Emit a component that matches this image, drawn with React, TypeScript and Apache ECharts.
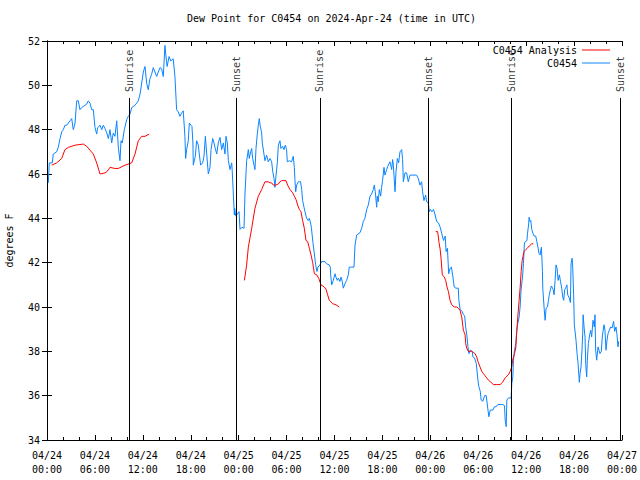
import React, { useEffect, useRef } from "react";
import * as echarts from "echarts";

// Hours since 2024-04-24 00:00 UTC
const blueHours = [0.16,0.29,0.66,0.79,1.21,1.41,1.63,1.84,2.04,2.25,2.47,2.67,2.88,3.09,3.29,3.42,3.51,3.72,3.92,4.13,4.35,4.55,4.76,4.97,5.17,5.38,5.6,5.8,6.01,6.22,6.35,6.64,6.85,7.05,7.26,7.48,7.68,7.89,8.1,8.3,8.51,8.73,8.93,9.14,9.27,9.43,9.68,9.98,10.18,10.39,10.61,11.02,11.43,11.65,11.86,12.06,12.27,12.48,12.68,12.89,13.1,13.31,13.52,13.73,13.94,14.15,14.35,14.56,14.77,14.87,15.04,15.29,15.5,15.8,16.02,16.23,16.44,16.64,16.85,17.06,17.27,17.36,17.48,17.69,17.82,18.03,18.15,18.27,18.32,18.57,18.74,18.95,19.07,19.24,19.49,19.66,19.83,20.0,20.2,20.41,20.54,20.75,20.91,21.04,21.25,21.45,21.66,21.87,22.08,22.29,22.41,22.58,22.71,22.92,23.13,23.2,23.33,23.46,23.5,23.63,23.85,24.05,24.17,24.42,24.67,24.79,25.0,25.21,25.33,25.5,25.63,25.75,25.92,26.04,26.17,26.33,26.46,26.58,26.71,26.88,26.96,27.17,27.29,27.5,27.71,27.92,28.13,28.27,28.43,28.54,28.67,28.85,28.97,29.17,29.29,29.5,29.67,29.84,30.0,30.09,30.34,30.63,30.84,30.97,31.05,31.14,31.26,31.47,31.76,31.89,32.01,32.18,32.3,32.51,32.72,32.85,32.97,33.1,33.3,33.51,33.64,33.8,33.93,34.18,34.39,34.8,35.0,35.35,35.47,35.52,35.65,35.85,36.06,36.18,36.35,36.48,36.68,36.81,36.97,37.1,37.31,37.52,37.73,37.85,38.14,38.44,38.57,38.78,39.19,39.4,39.6,39.81,40.03,40.23,40.45,40.65,40.86,40.98,41.11,41.28,41.36,41.48,41.61,41.78,41.9,42.02,42.2,42.32,42.53,42.74,42.95,43.16,43.28,43.37,43.58,43.7,43.87,44.03,44.2,44.41,44.53,44.62,44.82,45.03,45.24,45.45,46.28,46.49,46.7,46.91,47.03,47.2,47.41,47.53,47.74,47.87,48.0,48.2,48.4,48.6,48.8,49.0,49.23,49.44,49.65,49.86,49.97,50.14,50.3,50.48,50.64,50.81,50.99,51.2,51.5,51.57,51.73,51.98,52.15,52.3,52.42,52.58,52.71,52.83,53.0,53.25,53.33,53.54,53.75,53.96,54.08,54.25,54.37,54.58,54.79,55.0,55.2,55.33,55.5,55.83,56.04,56.25,56.45,56.87,57.08,57.29,57.37,57.5,57.58,57.79,58.0,58.12,58.2,58.33,58.41,58.54,58.7,58.83,58.95,59.12,59.24,59.37,59.54,59.66,59.78,60.1,60.16,60.3,60.37,60.5,60.58,60.7,60.87,61.0,61.2,61.33,61.5,61.62,61.75,61.91,62.04,62.08,62.25,62.37,62.5,62.66,62.79,62.87,63.04,63.16,63.37,63.5,63.62,63.74,63.87,64.0,64.16,64.3,64.45,64.58,64.7,64.83,64.95,65.1,65.2,65.41,65.54,65.62,65.75,65.83,65.95,66.03,66.24,66.37,66.5,66.66,66.75,66.87,66.99,67.08,67.13,67.25,67.37,67.46,67.58,67.66,67.79,67.95,68.08,68.2,68.37,68.54,68.62,68.7,68.83,69.0,69.12,69.24,69.41,69.54,69.75,69.87,70.0,70.12,70.25,70.41,70.58,70.75,70.95,71.08,71.25,71.37,71.5,71.58];
const blueValues = [45.6,46.5,46.5,46.9,47.0,47.2,47.6,47.9,48.0,48.2,48.2,48.3,48.4,48.5,48.0,48.15,48.3,49.3,49.3,48.9,49.0,49.05,49.1,49.15,49.3,49.2,48.9,48.9,48.1,47.8,48.1,48.2,48.0,48.2,48.05,47.85,47.6,48.0,47.4,47.85,47.7,48.4,47.2,46.6,47.5,47.4,48.0,48.45,48.6,48.7,49.0,49.1,49.3,49.6,50.1,50.6,50.85,50.1,49.8,50.3,50.5,50.8,50.6,50.4,50.6,50.8,50.75,50.4,51.8,51.4,50.85,51.3,51.1,51.2,50.4,48.9,48.8,48.6,48.75,48.85,47.7,46.7,47.1,47.5,48.3,48.2,48.15,47.4,46.4,46.8,47.5,47.3,46.9,46.4,46.5,46.8,47.7,46.9,46.0,46.3,47.1,47.6,47.4,47.2,46.9,47.4,47.65,47.1,47.4,46.9,47.7,47.4,46.6,46.2,46.5,46.1,45.1,44.15,44.45,44.1,44.2,44.3,43.5,43.6,43.55,45.1,46.6,47.1,46.7,47.0,47.15,46.7,46.4,46.2,47.15,47.8,48.2,48.5,48.15,47.85,47.4,46.9,46.6,46.85,46.55,46.7,46.55,46.1,45.8,45.4,45.9,46.55,47.3,47.5,47.15,47.25,47.1,47.3,47.1,46.55,46.6,46.55,46.8,46.3,45.7,45.2,45.5,45.65,45.65,45.3,44.8,44.5,44.3,44.0,43.9,44.0,43.85,43.6,42.9,42.3,41.9,41.6,41.8,41.9,42.05,42.05,41.95,41.9,41.8,41.45,41.0,41.2,41.5,41.35,41.2,41.3,41.15,41.35,41.15,40.85,41.05,41.2,41.45,41.8,41.8,41.8,42.8,43.25,43.35,43.55,43.85,44.0,44.4,44.6,45.0,45.1,45.3,45.5,45.2,44.5,45.0,44.75,45.3,45.0,45.4,45.7,46.3,45.95,46.2,46.4,46.55,46.2,46.65,46.4,45.2,46.1,46.7,46.5,47.0,47.1,46.65,45.65,46.05,46.05,45.65,45.95,45.95,45.8,45.5,45.65,45.2,44.8,45.05,44.75,44.7,44.3,44.4,44.3,44.4,44.15,43.85,43.8,43.6,43.3,43.0,43.2,42.5,42.65,41.5,41.75,41.8,41.4,40.9,40.85,40.85,40.3,39.9,39.8,39.65,39.6,39.1,38.7,38.2,37.9,38.05,38.0,37.75,37.7,37.45,36.7,36.4,36.2,35.8,35.75,36.0,36.0,35.4,35.05,35.35,35.35,35.5,35.5,35.6,35.6,35.6,35.55,34.9,34.6,35.8,35.9,35.9,35.9,36.55,36.85,37.6,38.05,38.35,38.95,39.25,39.55,40.0,40.8,41.35,41.95,42.9,43.0,43.3,43.7,44.05,43.85,43.9,43.5,43.3,43.2,43.2,42.95,42.65,42.4,42.35,42.7,41.6,40.85,39.95,39.4,39.95,40.0,40.3,40.5,40.8,40.95,40.8,40.55,41.2,41.9,41.75,41.2,41.45,41.15,40.85,40.45,40.3,40.8,40.85,41.0,40.55,40.4,40.2,41.95,42.2,41.8,40.45,39.2,38.5,37.9,37.45,36.6,37.0,37.3,38.05,38.8,39.65,39.1,38.65,37.4,36.85,37.6,38.35,38.75,38.95,38.65,39.4,39.1,39.65,38.05,37.6,38.2,38.05,37.9,38.0,38.7,39.2,38.95,38.05,38.5,38.8,38.95,39.1,39.05,39.35,38.9,39.1,38.75,38.2,38.45];

// Analysis series, three separate runs
const red1Hours = [0.59,1.21,1.84,2.25,2.67,3.51,4.55,4.97,5.8,6.22,6.64,7.26,7.48,7.89,8.51,8.93,9.77,10.6,11.02,11.43,11.86,12.27,12.8];
const red1Values = [46.4,46.5,46.7,47.1,47.2,47.3,47.35,47.25,46.9,46.5,46.0,46.05,46.1,46.3,46.25,46.25,46.4,46.5,46.9,47.5,47.7,47.7,47.8];
const red2Hours = [24.72,25.0,25.21,25.63,26.04,26.46,26.88,27.29,27.71,27.92,28.13,28.34,28.67,28.97,29.17,29.38,29.67,29.92,30.13,30.42,30.76,30.97,31.18,31.39,31.6,31.8,32.01,32.22,32.43,32.64,32.85,33.06,33.27,33.48,33.77,34.02,34.31,34.73,34.94,35.14,35.35,35.77,36.19,36.6];
const red2Values = [41.2,41.9,42.7,43.55,44.45,45.0,45.3,45.65,45.65,45.6,45.6,45.5,45.5,45.55,45.65,45.7,45.7,45.7,45.5,45.3,45.15,45.0,44.85,44.6,44.4,44.3,43.9,43.55,43.0,42.95,42.65,42.35,42.0,41.5,41.45,41.3,41.0,40.9,40.8,40.55,40.3,40.15,40.1,40.0];
const red3Hours = [48.67,48.92,49.09,49.23,49.34,49.5,49.75,49.92,50.09,50.26,50.47,50.68,51.0,51.3,51.5,51.72,51.93,52.14,52.35,52.43,52.55,52.76,53.18,53.38,53.6,53.8,54.0,54.22,54.43,54.64,54.85,55.06,55.27,55.6,55.9,56.32,56.74,57.03,57.37,57.79,58.0,58.2,58.3,58.54,58.7,58.83,58.95,59.12,59.25,59.37,59.5,59.73,59.98,60.14,60.39,60.69,60.89];
const red3Values = [43.4,43.4,42.9,42.6,42.2,41.45,41.35,41.2,40.9,40.7,40.3,40.1,40.0,40.0,39.95,39.85,39.55,38.95,38.75,38.35,38.15,38.0,38.0,37.95,37.9,37.75,37.5,37.3,37.1,37.0,36.9,36.8,36.7,36.6,36.5,36.5,36.5,36.6,36.8,36.95,37.1,37.3,37.6,37.9,38.15,38.95,39.55,40.3,40.9,41.6,42.1,42.5,42.6,42.65,42.75,42.85,42.85];

const sunNames = ["Sunrise", "Sunset", "Sunrise", "Sunset", "Sunrise", "Sunset"];
const sunHours = [10.27, 23.67, 34.18, 47.72, 58.13, 71.78];

const titleText = "Dew Point for C0454 on 2024-Apr-24 (time in UTC)";
const yTicks = { min: 34, max: 52, step: 2 };
const dayLabels = ["04/24", "04/25", "04/26", "04/27"];

const FONT = "DejaVu Sans Mono";

export default function App() {
  const ref = useRef<HTMLDivElement>(null);
  useEffect(() => {
    if (!ref.current) return;
    const chart = echarts.init(ref.current, null, { renderer: "svg" });
    const zip = (h: number[], v: number[]) => h.map((x, i) => [x, v[i]]);
    const redData: any[] = [
      ...zip(red1Hours, red1Values),
      [18, "-"],
      ...zip(red2Hours, red2Values),
      [42, "-"],
      ...zip(red3Hours, red3Values),
    ];
    const lineTop = 49.43;
    const labelAnchor = 49.7;
    const xCommon = {
      type: "value",
      min: 0,
      max: 72,
      interval: 6,
      splitLine: { show: false },
      axisLine: { show: true, lineStyle: { color: "#000", width: 1 } },
      axisTick: { show: true, inside: true, length: 5, lineStyle: { color: "#000" } },
      minorTick: { show: true, splitNumber: 3, length: 3, lineStyle: { color: "#000" } },
    };
    const yCommon = {
      type: "value",
      min: yTicks.min,
      max: yTicks.max,
      interval: yTicks.step,
      splitLine: { show: false },
      axisLine: { show: true, lineStyle: { color: "#000", width: 1 } },
      axisTick: { show: true, inside: true, length: 5, lineStyle: { color: "#000" } },
    };
    const legendCommon = {
      right: 30,
      align: "right",
      icon: "rect",
      itemWidth: 28,
      itemHeight: 1,
      padding: 0,
      textStyle: { fontFamily: FONT, fontSize: 10, color: "#000" },
    };
    chart.setOption({
      animation: false,
      backgroundColor: "#fff",
      title: {
        text: titleText,
        left: 187,
        top: 13,
        padding: 0,
        textStyle: { fontFamily: FONT, fontSize: 10, fontWeight: "normal", color: "#000" },
      },
      legend: [
        { ...legendCommon, data: ["C0454 Analysis"], top: 45 },
        { ...legendCommon, data: ["C0454"], top: 58 },
      ],
      grid: { left: 47, right: 18, top: 41, bottom: 40, outerBoundsMode: "none", containLabel: false },
      xAxis: [
        {
          ...xCommon,
          position: "bottom",
          axisLabel: {
            fontFamily: FONT,
            fontSize: 10,
            color: "#000",
            lineHeight: 14,
            margin: 8,
            formatter: (v: number) => {
              const d = Math.floor(v / 24);
              const h = v - d * 24;
              return `${dayLabels[d]}\n${String(h).padStart(2, "0")}:00`;
            },
          },
        },
        { ...xCommon, position: "top", axisLabel: { show: false } },
      ],
      yAxis: [
        {
          ...yCommon,
          position: "left",
          name: "degrees F",
          nameLocation: "middle",
          nameGap: 33,
          nameTextStyle: { fontFamily: FONT, fontSize: 10, color: "#000" },
          axisLabel: { fontFamily: FONT, fontSize: 10, color: "#000", margin: 7 },
        },
        { ...yCommon, position: "right", axisLabel: { show: false } },
      ],
      series: [
        {
          name: "C0454 Analysis",
          type: "line",
          data: redData,
          showSymbol: false,
          symbol: "none",
          connectNulls: false,
          color: "#ff0000",
          lineStyle: { color: "#ff0000", width: 1 },
          z: 3,
        },
        {
          name: "C0454",
          type: "line",
          data: zip(blueHours, blueValues),
          showSymbol: false,
          symbol: "none",
          color: "#0a84ff",
          lineStyle: { color: "#0a84ff", width: 1 },
          z: 2,
        },
        {
          name: "sun",
          type: "scatter",
          symbolSize: 0,
          silent: true,
          z: 4,
          data: sunHours.map((h, i) => ({ value: [h, labelAnchor], name: sunNames[i] })),
          label: {
            show: true,
            formatter: (p: any) => p.name,
            rotate: 90,
            position: [0, 0],
            align: "left",
            verticalAlign: "middle",
            fontFamily: FONT,
            fontSize: 10,
            color: "#000",
          },
          markLine: {
            silent: true,
            symbol: "none",
            label: { show: false },
            lineStyle: { color: "#000", width: 1, type: "solid" },
            data: sunHours.map((h) => [{ coord: [h, yTicks.min] }, { coord: [h, lineTop] }]),
          },
        },
      ],
    });
    return () => chart.dispose();
  }, []);
  return (
    <div
      ref={ref}
      style={{ position: "absolute", left: 0, top: 0, width: 640, height: 480 }}
    />
  );
}
